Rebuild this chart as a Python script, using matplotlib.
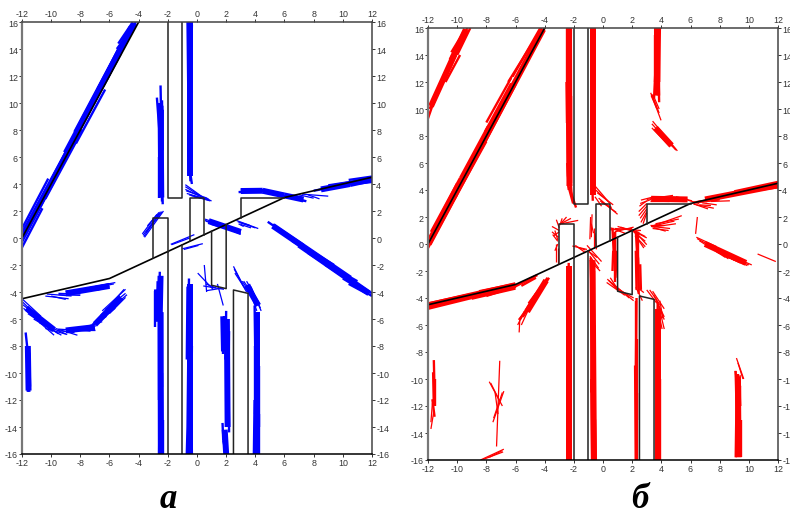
import matplotlib
matplotlib.use('Agg')
import matplotlib.pyplot as plt
from matplotlib.collections import LineCollection

plt.rcParams['font.family'] = ['Liberation Sans', 'DejaVu Sans']
plt.rcParams['axes.unicode_minus'] = False

x_ticks = [-12, -10, -8, -6, -4, -2, 0, 2, 4, 6, 8, 10, 12]
y_ticks = [-16, -14, -12, -10, -8, -6, -4, -2, 0, 2, 4, 6, 8, 10, 12, 14, 16]

# black outlines of the map, same in both panels
road_x = [-12, -6, 6, 12]
road_y = [-4.5, -3, 3, 4.5]
diag_x = [-12, -4]
diag_y = [0, 16]
block_a_x = [-2, -2, -1, -1]
block_a_y = [16, 3, 3, 16]
block_b_x = [-0.5, -0.5, 0.5, 0.5]
block_b_y = [-0.25, 3, 3, 0.25]
block_c_x = [-3, -3, -2, -2]
block_c_y = [-1.5, 1.5, 1.5, -1]
block_d_x = [1, 1, 2, 2]
block_d_y = [0.5, -3.5, -3.75, 1]
block_e_x = [2.5, 2.5, 3.5, 3.5]
block_e_y = [-16, -3.85, -4.1, -16]
block_f_x = [3, 3, 6]
block_f_y = [1.5, 3, 3]
block_g_x = [-2, -2]
block_g_y = [-1, -16]
block_h_x = [-1, -1]
block_h_y = [-0.5, -16]

# solid middle of the blue streaks (x0, y0, x1, y1)
blue_body = [
    (-12, 0.1, -8, 8.1), (-9, 6.3, -6.1, 12.2), (-8.3, 7.8, -5.2, 14.1), (-6.7, 11, -4.3, 15.9), (-6.1, 12.2, -4.5, 15.6),
    (-0.5, 16, -0.5, 6), (-0.48, 7, -0.48, 4.6), (-2.5, 9.8, -2.45, 3),
    (3, 3.48, 4.5, 3.5), (4.5, 3.5, 6, 3.15), (6, 3.15, 7.3, 2.85), (8.5, 3.6, 10.5, 4), (10.5, 4, 12, 4.35),
    (5.2, 0.9, 10.5, -3), (7, -0.5, 11.8, -4.1), (0.8, 1.25, 3, 0.45),
    (-2.5, -5.5, -2.48, -16), (-2.75, -3.8, -2.6, -6.2), (-2.5, -2.8, -2.55, -5.5),
    (-0.5, -3.4, -0.5, -16), (2.05, -6, 2.1, -14), (1.9, -14.2, 2, -16), (1.8, -5.8, 1.85, -8.4),
    (4.1, -5.5, 4.1, -16), (-11.6, -8, -11.55, -11.3),
    (-9, -4.1, -6, -3.55), (-9, -6.85, -7, -6.6), (-7, -6.4, -5.2, -4.4), (-11.7, -5.2, -9.8, -6.8),
    (3.4, -3.5, 4.2, -5),
]

# blue strokes (x0, y0, x1, y1), panel a
blue_dense = [
    (-12, -0.7, -10.6, 2.2), (-12, -0.3, -9.8, 4.2), (-12, 0.3, -9.4, 5.5), (-12, 0.7, -10.2, 4.4),
    (-10.4, 2.9, -8.2, 7.3), (-10, 4.3, -7.4, 9.5), (-9.8, 4.7, -7.8, 8.9), (-9.2, 5.6, -7.2, 9.7),
    (-8.3, 7.0, -6.3, 11), (-7.7, 8.9, -5.9, 12.5), (-7.1, 9.9, -5.2, 13.7), (-7, 10.6, -5.3, 14),
    (-6.4, 11.3, -4.4, 15.4), (-6.2, 12.1, -4.2, 16), (-5.5, 14, -4.2, 15.9), (-5.4, 14.4, -4.4, 16),
    (-0.45, 16, -0.55, 12), (-0.65, 16, -0.6, 11), (-0.35, 15.8, -0.45, 10), (-0.5, 13, -0.55, 7),
    (-0.45, 11, -0.5, 5.5), (-0.55, 7, -0.45, 4.2), (-0.6, 5.8, -0.35, 4), (-0.4, 7, -0.45, 4.6),
    (-2.55, 9, -2.45, 3), (-2.5, 8, -2.4, 2.7), (-2.35, 9.5, -2.4, 4), (-2.6, 6, -2.6, 3), (-2.4, 10.2, -2.35, 6.5),
    (-2.5, 11.3, -2.45, 8.5), (-2.75, 10.4, -2.55, 7.5), (-2.6, 10, -2.5, 6.5), (-2.45, 6, -2.35, 2.5),
    (6.2, 3.1, 7.5, 2.72), (5, 3.4, 6.5, 3), (4, 3.55, 5.4, 3.35), (2.85, 3.4, 4.2, 3.5), (3, 3.6, 4.6, 3.55),
    (8, 3.5, 10, 3.9), (9, 3.9, 12, 4.4), (10, 3.9, 12, 4.15), (8.7, 3.55, 10.5, 4), (10.4, 4.3, 12, 4.55),
    (4.85, 1.2, 6.5, 0), (5.2, 1, 7.3, -0.5), (5.6, 0.6, 7.9, -1), (6.5, -0.2, 8.4, -1.5), (7, -0.4, 9.4, -2),
    (7.6, -1.1, 9.6, -2.5), (8, -1.3, 10.2, -3), (8.8, -2, 11, -3.5), (9.5, -2.3, 11, -3.2), (10, -3, 12, -4.3),
    (10.7, -3.2, 12, -4.1), (10.4, -3.4, 11.6, -4.1),
    (-11.75, -7, -11.55, -9), (-11.6, -8, -11.5, -11.4), (-11.65, -9, -11.6, -11.4), (-11.5, -8.5, -11.45, -11),
    (-2.55, -2.5, -2.6, -5), (-2.7, -3.2, -2.75, -6), (-2.85, -3.9, -2.85, -6.6), (-2.5, -3.8, -2.55, -8), (-2.6, -5, -2.6, -12),
    (-2.4, -5.5, -2.4, -11), (-2.5, -7, -2.55, -13), (-2.55, -11, -2.6, -16), (-2.4, -10, -2.35, -16), (-2.5, -13, -2.5, -16), (-2.3, -13.5, -2.3, -16),
    (-0.55, -3, -0.6, -7), (-0.65, -3.6, -0.7, -9), (-0.4, -4, -0.4, -9), (-0.5, -7, -0.55, -12), (-0.35, -8, -0.4, -13),
    (-0.6, -9, -0.65, -14), (-0.5, -12, -0.6, -16), (-0.4, -12, -0.35, -16), (-0.65, -14, -0.7, -16),
    (2, -5.4, 1.95, -9), (1.85, -5.8, 1.85, -8), (1.75, -6.3, 1.75, -8.6), (2.05, -8, 2.05, -12), (2.2, -6.9, 2.15, -11),
    (2.15, -10, 2.2, -14.4), (2, -12, 2.05, -14), (1.75, -13.7, 1.8, -15), (1.9, -14.5, 2.05, -16), (1.8, -15, 2, -16),
    (3.95, -5, 4, -9), (4.05, -5.5, 4.1, -10), (4.2, -5.8, 4.2, -11), (3.95, -8, 3.95, -13), (4.1, -9, 4.1, -14),
    (4.25, -9.5, 4.25, -14), (3.95, -12, 3.9, -16), (4.1, -12, 4.1, -16), (4.25, -13, 4.25, -16),
]

blue_hatch = [
    (-0.8, 3.95, 0.3, 3.1), (-0.8, 3.8, 0.4, 3.0), (-0.8, 3.6, 0.5, 2.95), (-0.75, 3.5, 0.7, 2.95), (-0.7, 3.3, 0.9, 2.8),
    (-0.55, 3.2, 1.0, 2.75), (-0.4, 3.15, 0.9, 2.75), (-0.2, 3.05, 0.8, 2.9),
    (-3.75, 0.3, -2.75, 1.75), (-3.7, 0.2, -2.6, 1.8), (-3.65, 0.1, -2.5, 1.95), (-3.6, 0.05, -2.3, 2), (-3.5, 0.4, -2.4, 1.95), (-3.4, 0.9, -2.6, 1.9),
    (0.55, 1.4, 2, 0.85), (0.55, 1.3, 2.2, 0.7), (0.6, 1.25, 2.5, 0.55), (0.8, 1.1, 3, 0.5), (1, 1, 3, 0.4), (1.5, 0.95, 3, 0.3), (1.9, 0.8, 3, 0.27), (2.2, 0.8, 3, 0.55),
    (2.7, 1.3, 4.2, 0.7), (2.9, 1.15, 4, 0.75), (3, 1, 3.7, 0.75), (2.8, 1.2, 3.6, 0.95), (2.85, 1.05, 3.2, 0.85),
    (-1.8, -0.47, -0.18, 0.25), (-1.75, -0.5, -0.5, 0.0),
    (-1, -0.8, 0.4, -0.42), (-0.9, -0.85, 0.1, -0.55),
    (0.5, -2, 0.66, -4), (0.05, -2.6, 1.1, -3.8), (1.4, -3.4, 1.8, -5), (0.43, -3.55, 1.85, -3.8), (0.66, -3.9, 1.8, -3.7), (0.6, -3.4, 1.3, -3.7),
    (2.5, -2.1, 3.3, -3.8), (2.55, -2.3, 3.4, -4), (2.6, -2.6, 3.2, -3.6), (3.1, -3.2, 3.9, -4.5), (3.2, -3.2, 4.1, -4.6), (3.4, -3.2, 4.3, -4.9),
    (3.6, -3.4, 4.4, -5.4), (3.7, -3.6, 4.35, -5.2), (3.5, -3.5, 4.1, -5.4),
    (7.6, 3.2, 8.4, 2.9), (7.2, 3.25, 9, 3.1), (7, 3.2, 8, 2.95), (6.6, 3.1, 7.4, 2.7),
    (-10.4, -4.3, -8.8, -4.5), (-10.3, -4.15, -8.6, -4.3), (-10, -4.3, -9, -4.55), (-9.5, -4.1, -8, -4.15), (-9.5, -4.2, -8, -4.25),
    (-9, -3.95, -7, -3.75), (-8.5, -4, -6.5, -3.8), (-8, -3.8, -6, -3.4), (-7.5, -3.7, -5.6, -3.3), (-7, -3.7, -5.7, -3.4), (-6.8, -3.85, -6, -3.6),
    (-12, -4.5, -10.7, -5.8), (-12, -4.7, -10.75, -6), (-12, -4.9, -10.2, -6.4), (-11.9, -5.2, -9.8, -7.2), (-11.6, -5.6, -9.5, -7.1),
    (-11.2, -6, -9.3, -7.2), (-10.8, -6.3, -9, -7.1), (-10.4, -6.7, -8.9, -7.15), (-9.7, -6.7, -8.2, -7.2), (-9.6, -6.85, -8.4, -7),
    (-9.5, -6.75, -7.3, -6.9), (-9, -6.8, -7, -6.8), (-8.5, -6.8, -6.9, -6.5), (-8, -6.7, -6.5, -6.2), (-7.6, -6.8, -6.2, -5.8),
    (-7.2, -6.4, -6, -5.5), (-6.8, -6.2, -5.6, -5.2), (-6.6, -5.7, -5.2, -4.5), (-6.3, -5.3, -4.9, -4.1), (-6.3, -5.6, -4.8, -4.2),
    (-6, -5.6, -4.9, -4.4), (-6.8, -6, -5, -3.8), (-6.5, -5.4, -4.9, -3.8),
]

# solid middle of the red streaks (x0, y0, x1, y1)
red_body = [
    (-11.8, 10.2, -10.2, 14), (-10.4, 13.6, -9.4, 15.9), (-11.95, 0, -4.1, 15.9), (-2.33, 16, -2.3, 4.3),
    (-0.72, 16, -0.72, 3.6), (3.7, 16, 3.72, 11), (3.6, 8.6, 4.7, 7.3), (7, 3.3, 12, 4.35), (7, 0, 9.8, -1.4),
    (-2.3, -1.6, -2.3, -16), (-0.72, -1.2, -0.62, -16), (3.8, -4.8, 3.8, -16), (9.25, -9.8, 9.3, -15.8),
    (-5.2, -5, -3.9, -2.7), (-12, -4.55, -6, -3.05), (3.3, 3.35, 5.8, 3.3),
]

# red strokes (x0, y0, x1, y1), panel b
red_dense = [
    (-12, 9.3, -11.3, 11.5), (-11.9, 10, -11, 12), (-11.7, 10.2, -10.9, 12.3), (-11.2, 11.8, -10.2, 14), (-11, 12, -10, 14.4),
    (-10.8, 12, -9.8, 14), (-10.5, 13, -9.7, 15), (-10.2, 14.2, -9.3, 16), (-10, 14, -9.1, 16), (-10.4, 14.2, -9.5, 15.8),
    (-12, -0.3, -10, 3.7), (-12, 0.3, -10, 4.5), (-11.8, 0.9, -9.8, 4.9), (-10.2, 3.3, -8, 7.6), (-10, 4.2, -8, 8.3), (-9.8, 4.9, -7.9, 8.7),
    (-8.3, 7.1, -6, 11.8), (-8.1, 8.3, -6.3, 11.9), (-8, 9, -6.3, 12.3), (-6.4, 11.4, -4, 16), (-6.5, 12, -4.2, 16), (-6.2, 12.4, -4.3, 16),
    (-2.45, 16, -2.45, 9), (-2.35, 16, -2.35, 8), (-2.2, 16, -2.25, 10), (-2.5, 12, -2.4, 5), (-2.3, 11, -2.3, 5), (-2.2, 11, -2.2, 4.5),
    (-2.45, 6, -2.35, 4), (-2.3, 6, -2.15, 3.6), (-2.4, 4.4, -2.05, 3), (-2.25, 4, -1.85, 2.7),
    (-0.8, 16, -0.75, 10), (-0.7, 16, -0.7, 9), (-0.6, 16, -0.65, 10), (-0.75, 11, -0.75, 4.5), (-0.65, 11, -0.7, 3.8), (-0.75, 5, -0.7, 3.2),
    (3.55, 15.5, 3.55, 12), (3.75, 16, 3.7, 12), (3.9, 16, 3.85, 12), (3.6, 13, 3.5, 10.8), (3.8, 13, 3.85, 10.5), (3.7, 13, 3.75, 11),
    (6.2, 3.05, 8, 3.4), (7, 3.35, 10, 3.9), (9, 3.9, 12, 4.6), (9, 3.7, 12, 4.3), (10, 3.9, 12, 4.2), (6.4, 3.1, 8, 3.3),
    (-12, -4.8, -9, -4), (-12, -4.6, -8, -3.5), (-12, -4.4, -9, -3.7), (-9, -4.05, -6, -3.3), (-8.5, -3.5, -6, -2.95), (-8, -3.85, -6, -3.15),
    (-6.2, -3.25, -4.5, -2.3), (-5.6, -3.1, -4.6, -2.5),
    (-2.35, -1.4, -2.4, -6), (-2.3, -1.8, -2.3, -7), (-2.45, -4, -2.4, -10), (-2.25, -4, -2.25, -10), (-2.4, -9, -2.4, -16), (-2.25, -9, -2.25, -16), (-2.35, -12, -2.35, -16),
    (-0.85, -1, -0.75, -5), (-0.7, -1.2, -0.7, -6), (-0.6, -2, -0.6, -8), (-0.75, -5, -0.8, -11), (-0.6, -6, -0.65, -12),
    (-0.8, -10, -0.75, -16), (-0.65, -11, -0.55, -16), (-0.55, -13, -0.5, -16),
    (0.65, 1.2, 0.75, -1), (0.85, 0.9, 0.85, -1.5), (0.7, -0.5, 0.65, -2), (0.95, -0.5, 0.85, -2.5), (0.8, 0.9, 0.8, -2.8),
    (2.25, 1, 2.35, -1), (2.4, 0.8, 2.4, -1.5), (2.25, -0.5, 2.3, -3.4), (2.4, -1, 2.45, -3.7), (2.55, -1.5, 2.6, -3.4), (2.35, 0.8, 2.45, -3.3),
    (2.3, -4, 2.25, -10), (2.35, -7, 2.35, -13), (2.2, -9, 2.25, -16), (2.35, -11, 2.35, -16), (2.27, -4.2, 2.27, -16),
    (3.75, -4.4, 3.7, -10), (3.9, -4.8, 3.85, -11), (3.75, -9, 3.75, -16), (3.9, -10, 3.9, -16), (3.7, -12, 3.7, -16),
    (-11.6, -8.6, -11.55, -11), (-11.65, -9.5, -11.6, -12), (-11.5, -10, -11.5, -12), (-11.7, -11.5, -11.55, -12.8),
    (9.1, -9.4, 9.15, -12), (9.25, -9.6, 9.25, -13), (9.4, -10.5, 9.35, -13), (9.15, -12, 9.1, -15.8), (9.3, -12.5, 9.3, -15.8), (9.45, -13, 9.45, -15.8),
    (-5.7, -5.6, -4.6, -3.7), (-5.5, -5.4, -4.2, -3.2), (-5.2, -5, -3.7, -2.5), (-5.1, -4.4, -3.8, -2.5),
]

red_hatch = [
    (-0.55, 4.3, 0.4, 3.1), (-0.5, 4, 0.5, 3), (-0.4, 3.8, 0.7, 2.9), (-0.3, 3.4, 1, 2.2), (-0.2, 3.2, 0.9, 2.35), (-0.1, 3.1, 0.6, 2.7), (-0.55, 3.5, -0.1, 2.8),
    (-0.85, 2, -0.9, 0.35), (-0.75, 2.2, -0.8, 0.5), (-0.65, 1.2, -0.65, -0.3), (-0.8, 1.5, -0.65, 0.8), (-0.55, 0.8, -0.45, -0.4),
    (3.27, 11.2, 3.98, 9.16), (3.35, 11.1, 3.85, 9.7), (3.45, 11, 3.85, 10), (3.3, 11, 3.7, 10),
    (3.4, 9.1, 5.1, 6.9), (3.35, 8.9, 5, 6.95), (3.35, 8.6, 4.6, 7.2), (3.5, 8.5, 4.8, 7.2), (3.7, 8.6, 5, 7),
    (2.55, 3, 3.3, 3.3), (2.6, 3.25, 3.5, 3.5), (3, 3.3, 4, 3.5), (3.5, 3.4, 4.8, 3.6), (4, 3.45, 5.2, 3.45), (4.6, 3.5, 5.8, 3.3), (5, 3.5, 6.1, 3.2),
    (3.2, 3.2, 4.5, 3.2), (4.2, 3.2, 5.6, 3.15), (5.8, 3.25, 6.6, 3),
    (3, 3, 2.45, 2.4), (3, 2.8, 2.45, 2.1), (3, 2.6, 2.55, 1.9), (3, 2.4, 2.6, 1.6), (3, 2.3, 2.75, 1.5), (3, 3.2, 2.5, 2.8),
    (3.3, 1.3, 5.4, 2.1), (3.3, 1.3, 4.9, 1.7), (3.4, 1.25, 5, 1.5), (3.3, 1.3, 4.6, 1.15), (3.4, 1.15, 4.5, 1.0), (3.5, 1.2, 4.3, 0.95),
    (3.6, 1.5, 5.2, 1.85), (3.2, 1.4, 4.2, 1.4),
    (6.2, 2.95, 7.6, 2.65), (6.4, 2.9, 7.2, 2.6), (6.6, 2.9, 7.4, 2.85), (7.4, 3.15, 8.7, 3.2), (6.8, 3.05, 7.8, 2.9),
    (6.47, 2, 6.35, 0.75), (6.4, 0.5, 7.8, -0.2), (6.45, 0.4, 8, -0.5), (6.6, 0.25, 8.4, -1), (7, 0.1, 8.6, -1.1), (7.4, -0.2, 9, -1.2),
    (7.8, -0.6, 9.4, -1.4), (8.2, -0.7, 9.6, -1.45), (8.6, -0.8, 10.2, -1.55), (9, -1.1, 10, -1.55), (8.4, -0.9, 9.9, -1.6),
    (10.6, -0.74, 11.85, -1.3),
    (-2.9, 1.5, -2.5, 2), (-2.9, 1.5, -2.2, 1.9), (-2.85, 1.5, -1.7, 1.75), (-2.95, 1.4, -2.8, 1.9), (-3, 1.2, -3.2, 1.8), (-3, 1, -3.5, 1.3),
    (-3, 0.9, -3.4, 0.6), (-3.05, 0.5, -3.5, 0.9), (-3.1, 0.3, -3.3, 1), (-3.1, 0.2, -3.45, 0.7), (-3.1, 0, -3.3, -0.5), (-3.2, 0, -3.2, -1.3), (-3.1, -0.3, -3.1, -1.5),
    (-5.75, -6.55, -5.7, -5.5), (-5.85, -6, -5.4, -5), (-5.8, -5.6, -5.5, -5.2), (-5.6, -6, -5, -4.6),
    (-1.1, -0.1, -0.1, -1.3), (-1, -0.5, -0.25, -1.5), (-0.9, -0.9, -0.3, -1.8), (-1.05, -0.5, -0.4, -1), (-0.9, -1.2, -0.2, -2),
    (-1.2, -0.65, -1.9, -0.1), (-1.1, -0.4, -2.1, -0.15), (-1.2, -0.45, -1.7, -0.25),
    (1, 1.3, 2.2, 0.9), (0.8, 1.15, 2.6, 1.0), (0.5, 1.05, 2, 1.15), (0.8, 0.9, 2.1, 1.25), (1.2, 1.25, 2.5, 0.85), (0.5, 1.2, 1.5, 0.8),
    (2.1, 0.9, 2.9, 0.2), (2.2, 0.9, 3, -0.05), (2.2, 0.6, 2.9, -0.2), (2.3, 0.5, 2.8, -0.3), (2.1, 0.95, 3, 0.45), (2.3, 0.9, 2.9, 0.55),
    (0.25, -2.85, 1.5, -3.8), (0.4, -2.7, 1.8, -4), (0.6, -2.9, 2.1, -4.2), (0.8, -3.2, 2.1, -4), (0.3, -2.6, 1, -3.4), (0.5, -2.5, 1.1, -3.5),
    (2.25, -3.2, 2.7, -4.2), (2.45, -3.3, 2.8, -3.6),
    (3, -3.4, 3.7, -4.4), (3.2, -3.4, 3.9, -4.5), (3.4, -3.5, 4.2, -4.8), (3.5, -3.8, 4.2, -5.4), (3.6, -4, 4.2, -5.6), (3.8, -4.5, 4.2, -6.3), (3.75, -4.7, 4.05, -6.3), (3.9, -4.2, 4.1, -5.5),
    (-7.08, -8.65, -7.3, -15), (-7.8, -10.2, -6.9, -12), (-6.8, -10.9, -7.55, -13.2), (-7.7, -10.3, -7.1, -11.6), (-6.9, -11, -7.5, -12.9), (-7.4, -11, -7.2, -12.6),
    (-8.4, -16, -6.8, -15.2), (-8.2, -15.95, -6.85, -15.4), (-7.8, -15.8, -6.9, -15.3),
    (-11.6, -12.4, -11.8, -13.7), (-11.7, -11.8, -11.8, -13.2),
    (9.15, -8.45, 9.65, -10), (9.25, -8.8, 9.6, -10), (9.05, -9.4, 9.2, -11), (9.4, -9.7, 9.45, -12),
]


def draw_panel(left, top, right, bottom, body, dense, hatch, colour):
    ax = fig.add_axes([left / 790, 1 - bottom / 510, (right - left) / 790, (bottom - top) / 510])
    for strokes, width in [(body, 4.3), (dense, 1.7), (hatch, 0.9)]:
        ax.add_collection(LineCollection([[(s[0], s[1]), (s[2], s[3])] for s in strokes], colors=colour, linewidths=width))
    ax.plot(road_x, road_y, color='black', lw=1.2)
    ax.plot(diag_x, diag_y, color='black', lw=1.2)
    for bx, by in [(block_a_x, block_a_y), (block_b_x, block_b_y), (block_c_x, block_c_y), (block_d_x, block_d_y),
                   (block_e_x, block_e_y), (block_f_x, block_f_y), (block_g_x, block_g_y), (block_h_x, block_h_y)]:
        ax.plot(bx, by, color='#222222', lw=1.1)
    ax.set_xlim(-12, 12)
    ax.set_ylim(-16, 16)
    ax.set_xticks(x_ticks)
    ax.set_yticks(y_ticks)
    ax.tick_params(top=True, right=True, labeltop=True, labelright=True, labelsize=6.4,
                   length=2, width=0.7, pad=1, colors='#333333')
    for side in ax.spines:
        ax.spines[side].set_color('#444444')
        ax.spines[side].set_linewidth(1.1)
    ax.spines['left'].set_color('#777777')
    ax.spines['left'].set_linewidth(1.6)
    ax.spines['bottom'].set_color('black')
    return ax


fig = plt.figure(figsize=(7.9, 5.1), dpi=100)
draw_panel(22, 23, 372, 455, blue_body, blue_dense, blue_hatch, '#0000ff')
draw_panel(428, 29, 778, 461, red_body, red_dense, red_hatch, '#ff0000')

fig.text(168 / 790, 2 / 510, 'а', family=['Liberation Serif', 'DejaVu Serif'], style='italic', weight='bold',
         fontsize=25, ha='center', va='baseline')
fig.text(640 / 790, 2 / 510, 'б', family=['Liberation Serif', 'DejaVu Serif'], style='italic', weight='bold',
         fontsize=25, ha='center', va='baseline')

fig.savefig('out.png', dpi=100)
